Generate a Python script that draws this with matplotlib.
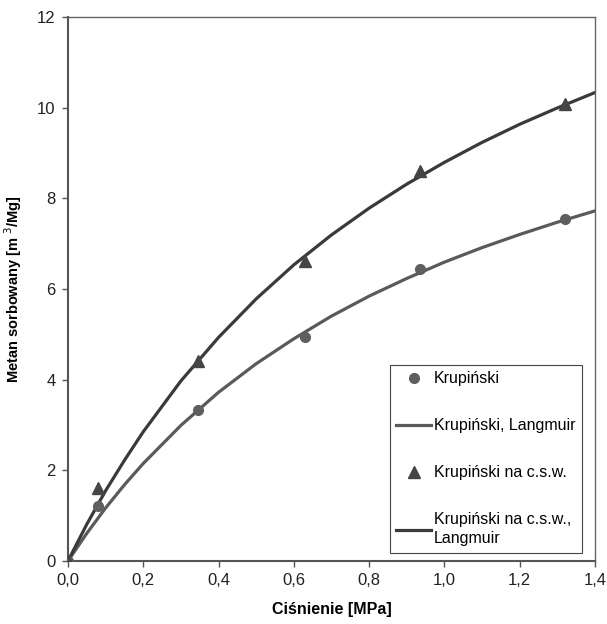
import matplotlib
matplotlib.use("Agg")
from matplotlib import pyplot as plt
from matplotlib.ticker import FuncFormatter

plt.rcParams['font.family'] = ['Liberation Sans', 'DejaVu Sans']

# measured points
p_meas = [0.0, 0.08, 0.345, 0.63, 0.935, 1.32]
v_krup = [0.0, 1.22, 3.33, 4.95, 6.45, 7.55]
v_krup_csw = [0.0, 1.62, 4.42, 6.62, 8.60, 10.08]

# Langmuir curves
p_fit = [0.0, 0.05, 0.1, 0.15, 0.2, 0.3, 0.4, 0.5, 0.6, 0.7, 0.8, 0.9, 1.0, 1.1, 1.2, 1.3, 1.4]
v_fit = [0.0, 0.61, 1.17, 1.68, 2.15, 2.99, 3.72, 4.35, 4.90, 5.40, 5.84, 6.23, 6.59, 6.91, 7.20, 7.47, 7.72]
v_fit_csw = [0.0, 0.81, 1.55, 2.22, 2.85, 3.97, 4.93, 5.78, 6.53, 7.19, 7.78, 8.31, 8.79, 9.23, 9.63, 9.99, 10.33]

fig = plt.figure(figsize=(6.07, 6.24), dpi=100)
ax = fig.add_axes([0.112, 0.101, 0.868, 0.872])

ax.plot(p_meas, v_krup, 'o', color='#5f5f5f', markersize=7, label='Krupiński', zorder=4)
ax.plot(p_fit, v_fit, '-', color='#5a5a5a', lw=2.3, label='Krupiński, Langmuir', zorder=3)
ax.plot(p_meas, v_krup_csw, '^', color='#454545', markersize=8, label='Krupiński na c.s.w.', zorder=4)
ax.plot(p_fit, v_fit_csw, '-', color='#3a3a3a', lw=2.3, label='Krupiński na c.s.w.,\nLangmuir', zorder=3)

ax.set_xlim(0, 1.4)
ax.set_ylim(0, 12)
ax.set_xticks([0, 0.2, 0.4, 0.6, 0.8, 1.0, 1.2, 1.4])
ax.set_yticks([0, 2, 4, 6, 8, 10, 12])
ax.xaxis.set_major_formatter(FuncFormatter(lambda v, pos: f'{v:.1f}'.replace('.', ',')))
ax.tick_params(direction='out', length=4, width=1, colors='#555555', labelcolor='#222222',
               labelsize=12, pad=5)

for s in ['left', 'bottom']:
    ax.spines[s].set_color('#555555')
    ax.spines[s].set_linewidth(1.5)
for s in ['top', 'right']:
    ax.spines[s].set_color('#666666')
    ax.spines[s].set_linewidth(1.0)

ax.set_xlabel('Ciśnienie [MPa]', fontsize=11.5, fontweight='bold', labelpad=10)
ax.set_ylabel('Metan sorbowany [m $^{3}$/Mg]', fontsize=10.5, fontweight='bold', labelpad=9)

leg = ax.legend(loc='lower right', bbox_to_anchor=(0.975, 0.015), fontsize=11.5,
                labelspacing=2.0, handlelength=2.2, handletextpad=0.15,
                borderpad=0.4, borderaxespad=0, fancybox=False, framealpha=1,
                edgecolor='#444444')
leg.get_frame().set_linewidth(0.8)
for t in leg.get_texts():
    t.set_linespacing(1.35)

fig.savefig('out.png', dpi=100)
